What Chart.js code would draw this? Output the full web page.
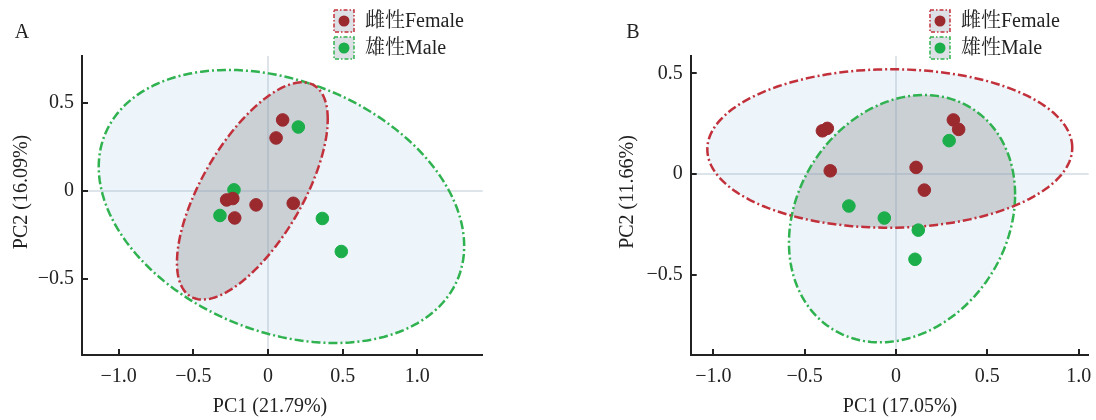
<!DOCTYPE html>
<html>
<head>
<meta charset="utf-8">
<title>PCA</title>
<script src="https://cdn.jsdelivr.net/npm/chart.js@4.4.1/dist/chart.umd.min.js"></script>
<style>
  html, body { margin: 0; padding: 0; background: #fff; overflow: hidden; }
  #wrap { position: relative; width: 1096px; height: 420px; }
  canvas { position: absolute; top: 0; }
  #chartA { left: 0; }
  #chartB { left: 548px; }
</style>
</head>
<body>
<div id="wrap">
  <canvas id="chartA" width="548" height="420"></canvas>
  <canvas id="chartB" width="548" height="420"></canvas>
</div>
<script>
// ---- data ----
const seriesNames = ["雌性Female", "雄性Male"];
const xTicks = [-1, -0.5, 0, 0.5, 1];
const yTicks = [-0.5, 0, 0.5];

// Panel A
const aFemaleX = [0.098, 0.054, -0.277, -0.236, -0.080, 0.169, -0.223];
const aFemaleY = [0.402, 0.300, -0.051, -0.043, -0.079, -0.070, -0.153];
const aMaleX = [0.203, -0.228, -0.322, 0.364, 0.491];
const aMaleY = [0.362, 0.006, -0.139, -0.156, -0.343];
// ellipse: [centre x, centre y, half width, half height, correlation]
const aFemaleEllipse = [-0.105, 0.0, 0.505, 0.615, 0.66];
const aMaleEllipse = [0.09, -0.088, 1.224, 0.773, -0.29];

// Panel B
const bFemaleX = [-0.403, -0.376, -0.360, 0.314, 0.343, 0.110, 0.155];
const bFemaleY = [0.215, 0.227, 0.016, 0.269, 0.222, 0.033, -0.080];
const bMaleX = [0.291, -0.258, -0.064, 0.122, 0.104];
const bMaleY = [0.166, -0.159, -0.219, -0.279, -0.424];
const bFemaleEllipse = [-0.034, 0.127, 0.999, 0.394, 0.01];
const bMaleEllipse = [0.033, -0.222, 0.619, 0.615, 0.195];

// ---- styles ----
const FONT = '"Liberation Serif", "Noto Serif CJK SC", "Noto Sans CJK SC", serif';
const TEXT = "#222";
const FEMALE = "#9b2a2f";
const MALE = "#1bae4a";
const FEMALE_LINE = "#c2313b";
const MALE_LINE = "#2fb24f";
const FILL = "rgba(222, 236, 246, 0.55)";
const OVERLAP = "#cbd0d5";

function toPoints(xs, ys) {
  return xs.map((x, i) => ({ x, y: ys[i] }));
}

function tickLabel(v) {
  if (v === 0) return "0";
  return (v < 0 ? "\u2212" : "") + Math.abs(v).toFixed(1);
}

/**
 * Trace an ellipse path in data space through the chart scales
 */
function ellipsePath(ctx, chart, e) {
  const xs = chart.scales.x;
  const ys = chart.scales.y;
  const [cx, cy, sx, sy, rho] = e;
  const phase = Math.acos(rho);
  ctx.beginPath();
  for (let i = 0; i <= 180; i++) {
    const t = (i / 180) * Math.PI * 2;
    const px = xs.getPixelForValue(cx + sx * Math.cos(t));
    const py = ys.getPixelForValue(cy + sy * Math.cos(t - phase));
    if (i === 0) ctx.moveTo(px, py);
    else ctx.lineTo(px, py);
  }
  ctx.closePath();
}

// Ellipses, zero lines, inward ticks, axis titles, legend and panel letter
const pcaDecor = {
  id: "pcaDecor",
  beforeDatasetsDraw(chart, args, opts) {
    const { ctx, chartArea } = chart;
    const [eF, eM] = opts.ellipses;

    ctx.save();
    // fills
    ellipsePath(ctx, chart, eM);
    ctx.fillStyle = FILL;
    ctx.fill();
    ellipsePath(ctx, chart, eF);
    ctx.fillStyle = FILL;
    ctx.fill();
    // overlap
    ctx.save();
    ellipsePath(ctx, chart, eM);
    ctx.clip();
    ellipsePath(ctx, chart, eF);
    ctx.fillStyle = OVERLAP;
    ctx.fill();
    ctx.restore();

    // zero lines
    const x0 = chart.scales.x.getPixelForValue(0);
    const y0 = chart.scales.y.getPixelForValue(0);
    ctx.strokeStyle = "rgba(130, 155, 178, 0.35)";
    ctx.lineWidth = 1.5;
    ctx.beginPath();
    ctx.moveTo(x0, chartArea.top);
    ctx.lineTo(x0, chartArea.bottom);
    ctx.moveTo(chartArea.left, y0);
    ctx.lineTo(chartArea.right, y0);
    ctx.stroke();

    // outlines
    ctx.setLineDash([9, 3, 2, 3]);
    ctx.lineWidth = 2.5;
    ellipsePath(ctx, chart, eM);
    ctx.strokeStyle = MALE_LINE;
    ctx.stroke();
    ellipsePath(ctx, chart, eF);
    ctx.strokeStyle = FEMALE_LINE;
    ctx.stroke();
    ctx.restore();
  },
  afterDraw(chart, args, opts) {
    const { ctx, chartArea } = chart;
    const xs = chart.scales.x;
    const ys = chart.scales.y;

    ctx.save();
    // inward tick marks
    ctx.strokeStyle = "#222";
    ctx.lineWidth = 2;
    ctx.beginPath();
    xTicks.forEach((v) => {
      const px = Math.round(xs.getPixelForValue(v));
      ctx.moveTo(px, chartArea.bottom);
      ctx.lineTo(px, chartArea.bottom - 6);
    });
    yTicks.forEach((v) => {
      const py = Math.round(ys.getPixelForValue(v));
      ctx.moveTo(chartArea.left, py);
      ctx.lineTo(chartArea.left + 6, py);
    });
    ctx.stroke();

    ctx.fillStyle = TEXT;
    ctx.font = "20px " + FONT;
    ctx.textAlign = "center";
    ctx.textBaseline = "middle";

    // axis titles, placed as in the figure
    ctx.fillText(opts.xTitle, opts.xTitleX, 407);
    ctx.save();
    ctx.translate(opts.yTitleX, 192);
    ctx.rotate(-Math.PI / 2);
    ctx.fillText(opts.yTitle, 0, 0);
    ctx.restore();

    // panel letter
    ctx.fillText(opts.letter, opts.letterX, 33);

    // legend
    const items = [
      { text: seriesNames[0], dot: FEMALE, line: FEMALE_LINE, y: 10 },
      { text: seriesNames[1], dot: MALE, line: MALE_LINE, y: 37 },
    ];
    items.forEach((it) => {
      const bx = opts.legendX;
      ctx.fillStyle = "#dde0e4";
      ctx.fillRect(bx, it.y, 20, 22);
      ctx.setLineDash([4, 2, 1.5, 2]);
      ctx.lineWidth = 1.5;
      ctx.strokeStyle = it.line;
      ctx.strokeRect(bx, it.y, 20, 22);
      ctx.setLineDash([]);
      ctx.fillStyle = it.dot;
      ctx.beginPath();
      ctx.arc(bx + 10, it.y + 11, 5.5, 0, Math.PI * 2);
      ctx.fill();
      ctx.fillStyle = TEXT;
      ctx.textAlign = "left";
      ctx.fillText(it.text, bx + 31, it.y + 12);
    });
    ctx.restore();
  },
};

function makeChart(id, cfg) {
  const ctx = document.getElementById(id).getContext("2d");
  const font = { family: FONT, size: 20 };
  return new Chart(ctx, {
    type: "scatter",
    data: {
      datasets: [
        {
          label: seriesNames[0],
          data: toPoints(cfg.femaleX, cfg.femaleY),
          backgroundColor: FEMALE,
          borderColor: FEMALE,
          pointRadius: 6.3,
          pointHoverRadius: 6.3,
        },
        {
          label: seriesNames[1],
          data: toPoints(cfg.maleX, cfg.maleY),
          backgroundColor: MALE,
          borderColor: MALE,
          pointRadius: 6.3,
          pointHoverRadius: 6.3,
        },
      ],
    },
    options: {
      responsive: false,
      animation: false,
      layout: { padding: { left: cfg.padLeft, right: cfg.padRight, top: 56, bottom: 0 } },
      plugins: {
        legend: { display: false },
        tooltip: { enabled: false },
        pcaDecor: {
          ellipses: cfg.ellipses,
          letter: cfg.letter,
          letterX: cfg.letterX,
          legendX: cfg.legendX,
          xTitle: cfg.xTitle,
          xTitleX: cfg.xTitleX,
          yTitle: cfg.yTitle,
          yTitleX: cfg.yTitleX,
        },
      },
      scales: {
        x: {
          type: "linear",
          min: cfg.xRange[0],
          max: cfg.xRange[1],
          afterBuildTicks: (s) => {
            s.ticks = xTicks.map((v) => ({ value: v }));
          },
          afterFit: (s) => {
            s.height = 65;
            s.paddingLeft = 0;
            s.paddingRight = 0;
          },
          grid: { display: false, drawTicks: false },
          border: { display: true, color: "#222", width: 2 },
          ticks: { padding: 10, color: TEXT, font, maxRotation: 0, callback: tickLabel },
          title: { display: false },
        },
        y: {
          type: "linear",
          min: cfg.yRange[0],
          max: cfg.yRange[1],
          afterBuildTicks: (s) => {
            s.ticks = yTicks.map((v) => ({ value: v }));
          },
          afterFit: (s) => {
            s.width = cfg.yWidth;
            s.paddingTop = 0;
            s.paddingBottom = 0;
          },
          grid: { display: false, drawTicks: false },
          border: { display: true, color: "#222", width: 2 },
          ticks: { padding: 8, color: TEXT, font, callback: tickLabel },
          title: { display: false },
        },
      },
    },
    plugins: [pcaDecor],
  });
}

makeChart("chartA", {
  femaleX: aFemaleX, femaleY: aFemaleY, maleX: aMaleX, maleY: aMaleY,
  ellipses: [aFemaleEllipse, aMaleEllipse],
  xRange: [-1.246, 1.438],
  yRange: [-0.929, 0.764],
  xTitle: "PC1 (21.79%)",
  yTitle: "PC2 (16.09%)",
  padLeft: 0, padRight: 65.3, yWidth: 82, xTitleX: 270, yTitleX: 22,
  letter: "A", letterX: 22, legendX: 334,
});

makeChart("chartB", {
  femaleX: bFemaleX, femaleY: bFemaleY, maleX: bMaleX, maleY: bMaleY,
  ellipses: [bFemaleEllipse, bMaleEllipse],
  xRange: [-1.124, 1.055],
  yRange: [-0.90, 0.587],
  xTitle: "PC1 (17.05%)",
  yTitle: "PC2 (11.66%)",
  padLeft: 57.5, padRight: 4.3, yWidth: 85.2, xTitleX: 352, yTitleX: 80,
  letter: "B", letterX: 85, legendX: 382,
});
</script>
</body>
</html>
